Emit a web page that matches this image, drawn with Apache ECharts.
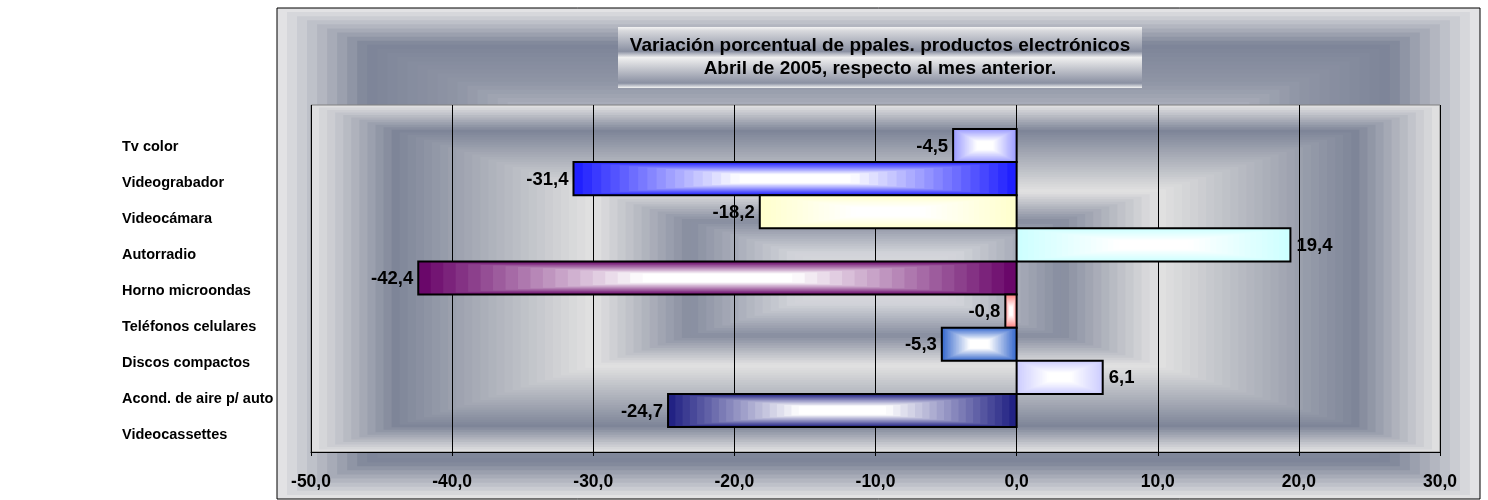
<!DOCTYPE html>
<html>
<head>
<meta charset="utf-8">
<script src="https://cdn.jsdelivr.net/npm/echarts@6/dist/echarts.min.js"></script>
<style>html,body{margin:0;padding:0;background:#fff}#c{width:1488px;height:500px}</style>
</head>
<body>
<div id="c"></div>
<script>
const categories = ['Tv color','Videograbador','Videocámara','Autorradio','Horno microondas','Teléfonos celulares','Discos compactos','Acond. de aire p/ auto','Videocassettes'];
const values = [-4.5,-31.4,-18.2,19.4,-42.4,-0.8,-5.3,6.1,-24.7];
const barColors = ['#9999ff','#1a1aff','#ffffcc','#ccffff','#660066','#ff8080','#3366cc','#ccccff','#1c1c80'];
const xMin = -50, xMax = 30, xStep = 10;
const titleLines = ['Variación porcentual de ppales. productos electrónicos','Abril de 2005, respecto al mes anterior.'];

const FONT = '"Liberation Sans", Arial, sans-serif';
function hex2rgb(h){h=h.replace('#','');return [parseInt(h.substr(0,2),16),parseInt(h.substr(2,2),16),parseInt(h.substr(4,2),16)];}
function mix(a,b,f){const A=hex2rgb(a),B=hex2rgb(b);return 'rgb('+A.map((v,i)=>Math.round(v+(B[i]-v)*f)).join(',')+')';}
function stopColor(stops,t){
  for(let i=1;i<stops.length;i++){
    if(t<=stops[i][0]){const a=stops[i-1],b=stops[i];return mix(a[1],b[1],(t-a[0])/(b[0]-a[0]));}
  }
  return stops[stops.length-1][1];
}
function rectRings(x,y,w,h,stops,n,z){
  const out=[];
  for(let k=0;k<n;k++){
    const t=k/n, ix=t*w/2, iy=t*h/2;
    out.push({type:'rect',z:z,silent:true,shape:{x:x+ix,y:y+iy,width:w-2*ix,height:h-2*iy},style:{fill:stopColor(stops,(k+0.5)/n)}});
  }
  return out;
}
const outerStops=[[0,'#e8e8e8'],[0.15,'#7d8498'],[0.3,'#8f95a5'],[0.45,'#b8bbc5'],[0.6,'#868c9e'],[1,'#c0c3cb']];
const plotStops=[[0,'#e4e4e4'],[0.15,'#7e8598'],[0.5,'#e2e2e2'],[0.67,'#878d9f'],[0.85,'#d0d2d8'],[1,'#e0e0e0']];

const PL=311, PR=1440, PT=105, PB=452;
const graphics=[].concat(
  rectRings(277,8,1203,491,outerStops,60,-30),
  rectRings(PL,PT,PR-PL,PB-PT,plotStops,70,-20),
  [{type:'rect',z:-5,silent:true,shape:{x:277,y:8,width:1203,height:491},style:{fill:'none',stroke:'#000',lineWidth:1}},
   {type:'rect',z:-5,silent:true,shape:{x:618,y:27,width:524,height:61},
    style:{fill:{type:'linear',x:0,y:0,x2:0,y2:1,colorStops:[
      {offset:0,color:'#f4f4f4'},{offset:0.06,color:'#d8d9dd'},{offset:0.4,color:'#8a90a2'},{offset:0.5,color:'#f0f0f0'},
      {offset:0.6,color:'#d8d9dd'},{offset:0.92,color:'#8a90a2'},{offset:1,color:'#f4f4f4'}]}}},
   {type:'text',z:10,silent:true,style:{x:880,y:46,text:titleLines[0],textAlign:'center',textVerticalAlign:'middle',font:'bold 19px '+FONT,fill:'#000'}},
   {type:'text',z:10,silent:true,style:{x:880,y:69,text:titleLines[1],textAlign:'center',textVerticalAlign:'middle',font:'bold 19px '+FONT,fill:'#000'}}
  ]
);

function fmt(v){return v.toFixed(1).replace('.',',');}

const chart=echarts.init(document.getElementById('c'));
chart.setOption({
  animation:false,
  backgroundColor:'#ffffff',
  graphic:graphics,
  grid:[
    {left:PL,top:PT,width:PR-PL,height:PB-PT,show:true,borderColor:'#808080',borderWidth:1,backgroundColor:'transparent'},
    {left:PL,top:129,width:PR-PL,height:298},
    {left:277,top:129,width:10,height:324}
  ],
  xAxis:[
    {gridIndex:0,type:'value',min:xMin,max:xMax,interval:xStep,
     axisLine:{show:true,onZero:false,lineStyle:{color:'#000',width:1}},
     axisTick:{show:true,length:4,lineStyle:{color:'#000'}},
     splitLine:{show:true,lineStyle:{color:'#000',width:1}},
     axisLabel:{margin:21,formatter:fmt,color:'#000',fontFamily:FONT,fontWeight:'bold',fontSize:17.5}},
    {gridIndex:1,type:'value',min:xMin,max:xMax,interval:xStep,show:false},
    {gridIndex:2,type:'value',show:false}
  ],
  yAxis:[
    {gridIndex:0,type:'value',show:false,splitLine:{show:false}},
    {gridIndex:1,type:'category',inverse:true,data:categories,show:false},
    {gridIndex:2,type:'category',inverse:true,data:categories,
     axisLine:{show:false},axisTick:{show:false},splitLine:{show:false},
     axisLabel:{align:'left',margin:155,color:'#000',fontFamily:FONT,fontWeight:'bold',fontSize:14.5}}
  ],
  series:[{
    type:'custom',xAxisIndex:1,yAxisIndex:1,
    data:values.map((v,i)=>[v,i]),
    encode:{x:0,y:1},
    clip:false,
    renderItem:function(params,api){
      const v=api.value(0), idx=api.value(1);
      const p0=api.coord([0,idx]), p1=api.coord([v,idx]);
      const h=api.size([0,1])[1];
      const x=Math.min(p0[0],p1[0]), w=Math.abs(p1[0]-p0[0]), y=p0[1]-h/2;
      const edge=barColors[idx];
      const n=24, kids=[];
      for(let k=0;k<n;k++){
        const t=k/n, ix=t*w/2, iy=t*h/2;
        const f=Math.min(1,((k+0.5)/n)/0.75);
        kids.push({type:'rect',shape:{x:x+ix,y:y+iy,width:w-2*ix,height:h-2*iy},style:{fill:mix(edge,'#ffffff',f)}});
      }
      kids.push({type:'rect',shape:{x:x,y:y,width:w,height:h},style:{fill:'none',stroke:'#000',lineWidth:2}});
      kids.push({type:'text',style:{x:v<0?x-5:x+w+6,y:p0[1]+1,text:fmt(v),textAlign:v<0?'right':'left',textVerticalAlign:'middle',font:'bold 18.5px '+FONT,fill:'#000'}});
      return {type:'group',children:kids};
    }
  }]
});
</script>
</body>
</html>
